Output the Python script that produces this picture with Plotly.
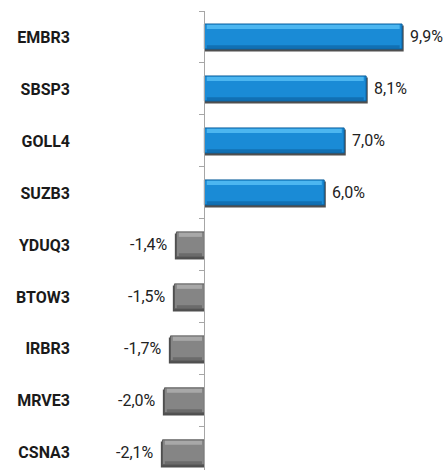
import plotly.graph_objects as go

tickers = ["EMBR3", "SBSP3", "GOLL4", "SUZB3", "YDUQ3", "BTOW3", "IRBR3", "MRVE3", "CSNA3"]
values = [9.9, 8.1, 7.0, 6.0, -1.4, -1.5, -1.7, -2.0, -2.1]

labels = [f"{v:.1f}%".replace(".", ",") for v in values]
main_colors = ["#1a8bd6" if v >= 0 else "#858585" for v in values]
light_colors = ["#4cb6f0" if v >= 0 else "#a8a8a8" for v in values]
dark_colors = ["#0b5f9c" if v >= 0 else "#5a5a5a" for v in values]
sign = [1 if v >= 0 else -1 for v in values]

XMIN, XMAX = -6.53, 12.0
fig = go.Figure()

# shadow
fig.add_trace(go.Bar(
    y=tickers, x=[v + s * 0.08 for v, s in zip(values, sign)], orientation="h",
    width=0.5, offset=-0.22,
    marker=dict(color="rgba(20,20,20,0.75)", line=dict(width=0)),
    hoverinfo="skip", showlegend=False,
))
# main bar
fig.add_trace(go.Bar(
    y=tickers, x=values, orientation="h",
    width=0.48, offset=-0.25,
    marker=dict(color=main_colors, line=dict(width=1, color=dark_colors)),
    showlegend=False,
))
# top highlight
fig.add_trace(go.Bar(
    y=tickers, x=[v - 2 * s * 0.12 for v, s in zip(values, sign)], base=[s * 0.12 for s in sign],
    orientation="h", width=0.08, offset=-0.235,
    marker=dict(color=light_colors, line=dict(width=0)),
    hoverinfo="skip", showlegend=False,
))
# bottom darker strip
fig.add_trace(go.Bar(
    y=tickers, x=[v - 2 * s * 0.12 for v, s in zip(values, sign)], base=[s * 0.12 for s in sign],
    orientation="h", width=0.06, offset=0.16,
    marker=dict(color=dark_colors, line=dict(width=0), opacity=0.6),
    hoverinfo="skip", showlegend=False,
))
# invisible trace for the zero axis
fig.add_trace(go.Scatter(
    y=tickers, x=[0] * len(tickers), yaxis="y2", mode="markers",
    marker=dict(opacity=0), hoverinfo="skip", showlegend=False,
))

for t, v, lab, s in zip(tickers, values, labels, sign):
    fig.add_annotation(
        x=v, y=t, text=lab, showarrow=False,
        xanchor="left" if s > 0 else "right", xshift=6 * s, yshift=0,
        font=dict(family="Roboto", size=16, color="#222222"),
    )

yr = [8.33, -0.5]
fig.update_layout(
    width=444, height=470,
    margin=dict(l=74, r=0, t=11, b=0),
    paper_bgcolor="white", plot_bgcolor="white",
    barmode="overlay", bargap=0.5,
    xaxis=dict(range=[XMIN, XMAX], showgrid=False, zeroline=False,
               showticklabels=False, showline=False, fixedrange=True, automargin=False),
    yaxis=dict(type="category", categoryorder="array", categoryarray=tickers,
               range=yr, showgrid=False, showline=False, ticks="", automargin=False,
               ticklabelstandoff=3, fixedrange=True,
               tickfont=dict(family="Roboto", size=16, color="#1a1a1a", weight="bold")),
    yaxis2=dict(type="category", categoryorder="array", categoryarray=tickers,
                range=yr, overlaying="y", anchor="free", automargin=False, fixedrange=True,
                position=(0 - XMIN) / (XMAX - XMIN),
                showline=True, linecolor="#a6a6a6", linewidth=1,
                ticks="outside", ticklen=5, tickcolor="#a6a6a6", tickson="boundaries",
                showticklabels=False, showgrid=False, side="left"),
)

fig.write_html("out.html", config={"displayModeBar": False},
               post_script="document.body.style.margin='0';")
